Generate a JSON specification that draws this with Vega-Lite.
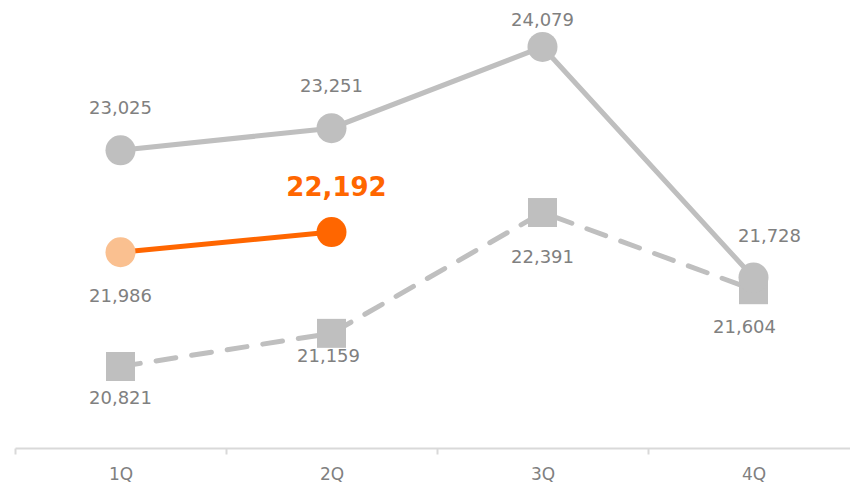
{
  "$schema": "https://vega.github.io/schema/vega-lite/v6.json",
  "width": 844,
  "height": 448,
  "autosize": {"type": "none"},
  "padding": {"left": 15, "top": 0, "right": 0, "bottom": 36},
  "background": "white",
  "config": {"view": {"stroke": null}, "font": "DejaVu Sans"},
  "data": {
    "values": [
      {"quarter": "1Q", "series": "Prior year", "value": 23025},
      {"quarter": "2Q", "series": "Prior year", "value": 23251},
      {"quarter": "3Q", "series": "Prior year", "value": 24079},
      {"quarter": "4Q", "series": "Prior year", "value": 21728},
      {"quarter": "1Q", "series": "Two years ago", "value": 20821},
      {"quarter": "2Q", "series": "Two years ago", "value": 21159},
      {"quarter": "3Q", "series": "Two years ago", "value": 22391},
      {"quarter": "4Q", "series": "Two years ago", "value": 21604},
      {"quarter": "1Q", "series": "Current", "value": 21986},
      {"quarter": "2Q", "series": "Current", "value": 22192}
    ]
  },
  "encoding": {
    "x": {
      "field": "quarter",
      "type": "ordinal",
      "sort": ["1Q", "2Q", "3Q", "4Q"],
      "scale": {"type": "band", "domain": ["1Q", "2Q", "3Q", "4Q"], "paddingInner": 0, "paddingOuter": 0},
      "axis": {
        "title": null,
        "labelAngle": 0,
        "labelFontSize": 17,
        "labelColor": "#808080",
        "labelPadding": 12,
        "labelBaseline": "top",
        "domainColor": "#D9D9D9",
        "domainWidth": 2,
        "tickColor": "#D9D9D9",
        "tickWidth": 2,
        "tickSize": 6,
        "tickBand": "extent"
      }
    },
    "y": {
      "field": "value",
      "type": "quantitative",
      "scale": {"domain": [19990, 24558], "nice": false, "zero": false},
      "axis": null
    }
  },
  "layer": [
    {
      "transform": [{"filter": "datum.series === 'Two years ago'"}],
      "mark": {"type": "line", "color": "#BFBFBF", "strokeWidth": 5, "strokeDash": [20, 16], "strokeCap": "round"}
    },
    {
      "transform": [{"filter": "datum.series === 'Prior year'"}],
      "mark": {"type": "line", "color": "#BFBFBF", "strokeWidth": 5}
    },
    {
      "transform": [{"filter": "datum.series === 'Two years ago'"}],
      "mark": {"type": "point", "shape": "square", "filled": true, "opacity": 1, "color": "#BFBFBF", "size": 840}
    },
    {
      "transform": [{"filter": "datum.series === 'Prior year'"}],
      "mark": {"type": "point", "shape": "circle", "filled": true, "opacity": 1, "color": "#BFBFBF", "size": 900}
    },
    {
      "transform": [{"filter": "datum.series === 'Current'"}],
      "mark": {"type": "line", "color": "#FF6600", "strokeWidth": 5}
    },
    {
      "transform": [{"filter": "datum.series === 'Current'"}],
      "mark": {"type": "point", "shape": "circle", "filled": true, "opacity": 1, "size": 900},
      "encoding": {
        "color": {"condition": {"test": "datum.quarter === '1Q'", "value": "#FAC090"}, "value": "#FF6600"}
      }
    },
    {
      "transform": [{"filter": "datum.series === 'Prior year' && (datum.quarter === '1Q' || datum.quarter === '2Q')"}],
      "mark": {"type": "text", "fontSize": 18, "color": "#808080", "baseline": "middle", "dy": -41},
      "encoding": {"text": {"field": "value", "type": "quantitative", "format": ","}}
    },
    {
      "transform": [{"filter": "datum.series === 'Prior year' && datum.quarter === '3Q'"}],
      "mark": {"type": "text", "fontSize": 18, "color": "#808080", "baseline": "middle", "dy": -26},
      "encoding": {"text": {"field": "value", "type": "quantitative", "format": ","}}
    },
    {
      "transform": [{"filter": "datum.series === 'Prior year' && datum.quarter === '4Q'"}],
      "mark": {"type": "text", "fontSize": 18, "color": "#808080", "baseline": "middle", "dy": -41, "dx": 16},
      "encoding": {"text": {"field": "value", "type": "quantitative", "format": ","}}
    },
    {
      "transform": [{"filter": "datum.series === 'Two years ago' && datum.quarter === '1Q'"}],
      "mark": {"type": "text", "fontSize": 18, "color": "#808080", "baseline": "middle", "dy": 32},
      "encoding": {"text": {"field": "value", "type": "quantitative", "format": ","}}
    },
    {
      "transform": [{"filter": "datum.series === 'Two years ago' && datum.quarter === '2Q'"}],
      "mark": {"type": "text", "fontSize": 18, "color": "#808080", "baseline": "middle", "dy": 24, "dx": -3},
      "encoding": {"text": {"field": "value", "type": "quantitative", "format": ","}}
    },
    {
      "transform": [{"filter": "datum.series === 'Two years ago' && datum.quarter === '3Q'"}],
      "mark": {"type": "text", "fontSize": 18, "color": "#808080", "baseline": "middle", "dy": 45},
      "encoding": {"text": {"field": "value", "type": "quantitative", "format": ","}}
    },
    {
      "transform": [{"filter": "datum.series === 'Two years ago' && datum.quarter === '4Q'"}],
      "mark": {"type": "text", "fontSize": 18, "color": "#808080", "baseline": "middle", "dy": 38, "dx": -9},
      "encoding": {"text": {"field": "value", "type": "quantitative", "format": ","}}
    },
    {
      "transform": [{"filter": "datum.series === 'Current' && datum.quarter === '1Q'"}],
      "mark": {"type": "text", "fontSize": 18, "color": "#808080", "baseline": "middle", "dy": 45},
      "encoding": {"text": {"field": "value", "type": "quantitative", "format": ","}}
    },
    {
      "transform": [{"filter": "datum.series === 'Current' && datum.quarter === '2Q'"}],
      "mark": {"type": "text", "fontSize": 26, "fontWeight": "bold", "color": "#FF6600", "baseline": "middle", "dy": -44, "dx": 5},
      "encoding": {"text": {"field": "value", "type": "quantitative", "format": ","}}
    }
  ]
}
